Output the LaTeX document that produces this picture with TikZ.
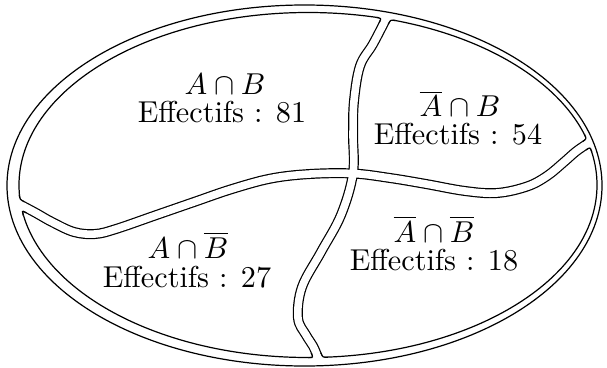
\documentclass[tikz,border=0pt]{standalone}
\usepackage{amsmath,amssymb}
\usepackage{tikz}
\usetikzlibrary{positioning, calc}

\begin{document}
\begin{tikzpicture}[x=0.331pt, y=-0.331pt,
  rim/.style={line width=0.4pt},
  setlbl/.style={anchor=base, inner sep=0pt},
  countlbl/.style={anchor=base, inner sep=0pt}
]
\useasboundingbox (0,0) rectangle (607,367);
% ends of the two dividing strips
\coordinate (top) at (386,19);
\coordinate (mid) at (353,173.5);
\coordinate (bot) at (318,357.5);
\coordinate (lft) at (21,205);
\coordinate (rgt) at (588.3,143);
% corners where the strips meet the inner rim
\coordinate (tl) at (381.44,18.23);
\coordinate (tr) at (390.56,19.77);
\coordinate (bl) at (313.25,357.6);
\coordinate (br) at (322.76,357.4);
\coordinate (lu) at (19.91,199.43);
\coordinate (ld) at (22.09,210.57);
\coordinate (ru) at (586.56,138.86);
\coordinate (rd) at (590.04,147.14);
% outer rim and inner rim
\draw[rim] (304.5,185.5) ellipse [x radius=297.5, y radius=180.5];
\draw[rim] (308,185) ellipse [x radius=289, y radius=172.5];
% strips: black layer clipped to the inner rim, then white layer
\foreach \lw/\col/\rx/\ry in {3.31pt/black/289/172.5, 2.51pt/white/291.5/175} {
  \begin{scope}
    \clip (308,185) ellipse [x radius=\rx, y radius=\ry];
    \draw[line width=\lw, \col] plot[smooth, tension=0.6] coordinates {
      (391.2,9) (top) (373,44) (360,66) (354,101) (353,134) (mid)
      (341,215) (321,252) (302,287) (298,318) (306,335) (313,346) (bot) (320,362.1)};
    \draw[line width=\lw, \col] plot[smooth, tension=0.6] coordinates {
      (15,201.8) (lft) (36,213) (52,222) (74,232) (95,234) (116,229) (155,215.5)
      (194,202) (232,189) (271,178.5) (310,174) (mid) (390,178) (426,184)
      (465,191) (497,193) (527,186.5) (547,176) (564,162) (576,151.5) (rgt) (593.2,139.6)};
  \end{scope}
}
% rounded corners at the rim
\foreach \c/\a/\b in {tl/188.9/117.5, tr/10.1/117.5, bl/179.4/246.5, br/-1.7/246.5,
                      lu/262/28.1, ld/75.9/28.1, ru/-114.9/145.4, rd/69.4/145.4} {
  \fill[white] ($(\c)+(\a:5)$) -- ($(\c)+(\a+180:2)+(\b+180:2)$) -- ($(\c)+(\b:5)$)
    .. controls (\c) .. ($(\c)+(\a:5)$) -- cycle;
  \draw[rim] ($(\c)+(\a:5)$) .. controls (\c) .. ($(\c)+(\b:5)$);
}
% labels
\node[setlbl] (ab) at (225,95) {$A\cap B$};
\node[countlbl] (abn) at (222,122) {Effectifs : 81};
\node[setlbl] (nab) at (460,117) {$\overline{A}\cap B$};
\node[countlbl] (nabn) at (458,145) {Effectifs : 54};
\node[setlbl] (anb) at (188,258) {$A\cap\overline{B}$};
\node[countlbl] (anbn) at (187,287) {Effectifs : 27};
\node[setlbl] (nanb) at (434,242) {$\overline{A}\cap\overline{B}$};
\node[countlbl] (nanbn) at (434,270) {Effectifs : 18};
\end{tikzpicture}
\end{document}
